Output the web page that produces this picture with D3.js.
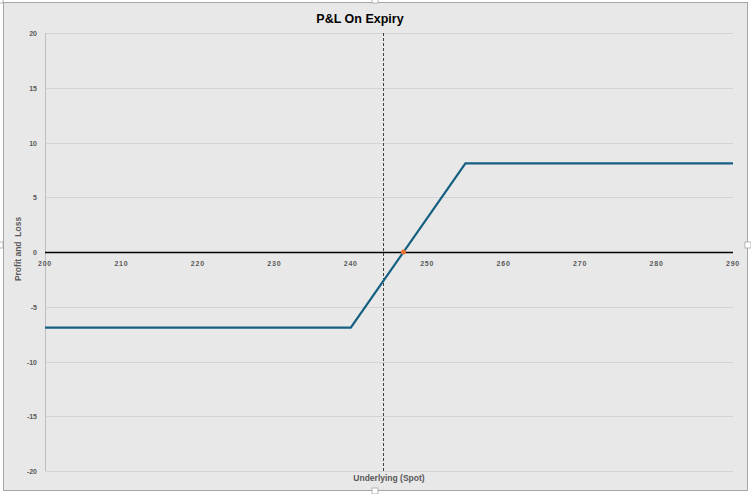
<!DOCTYPE html>
<html><head><meta charset="utf-8">
<script src="https://cdn.jsdelivr.net/npm/d3@7"></script>
<style>body{margin:0;background:#fff}svg{display:block}</style>
</head><body><svg id="c" width="751" height="494"></svg>
<script>
const underlying = [200, 240, 255, 290];
const pnl = [-6.9, -6.9, 8.1, 8.1];
const breakeven = [246.9, 0];
const spot = 244.2;
const xTicks = [200, 210, 220, 230, 240, 250, 260, 270, 280, 290];
const yTicks = [-20, -15, -10, -5, 0, 5, 10, 15, 20];
const title = "P&L On Expiry";
const xTitle = "Underlying (Spot)";
const yTitle = "Profit and  Loss";

const svg = d3.select("#c");
svg.append("rect").attr("x",3.5).attr("y",2.5).attr("width",744).attr("height",488)
  .attr("fill","#e8e8e8").attr("stroke","#a6a6a6").attr("stroke-width",1);

const x = d3.scaleLinear().domain([200,290]).range([45,733]);
const y = d3.scaleLinear().domain([-20,20]).range([471,33]);

// grid
svg.append("g").selectAll("line").data(yTicks.filter(d=>d!==0)).join("line")
  .attr("x1",45).attr("x2",733).attr("y1",d=>Math.round(y(d))+0.5).attr("y2",d=>Math.round(y(d))+0.5)
  .attr("stroke","#d4d4d4").attr("stroke-width",1);
svg.append("line").attr("x1",45.5).attr("x2",45.5).attr("y1",y(20)).attr("y2",y(-20))
  .attr("stroke","#bfbfbf");

// y labels
svg.append("g").selectAll("text").data(yTicks).join("text")
  .attr("x",37).attr("y",d=>y(d)+3).attr("text-anchor","end")
  .attr("font-family","Liberation Sans, Arial, sans-serif").attr("font-size",7).attr("font-weight","bold")
  .attr("fill","#595959").text(d=>d);

// zero axis
svg.append("line").attr("x1",45).attr("x2",733).attr("y1",Math.round(y(0))+0.5).attr("y2",Math.round(y(0))+0.5)
  .attr("stroke","#000").attr("stroke-width",1.3);

// x labels
svg.append("g").selectAll("text").data(xTicks).join("text")
  .attr("x",d=>x(d)).attr("y",y(0)+14).attr("text-anchor","middle")
  .attr("font-family","Liberation Sans, Arial, sans-serif").attr("font-size",7).attr("font-weight","bold")
  .attr("letter-spacing",0.8)
  .attr("fill","#595959").text(d=>d);

// spot dashed line
svg.append("line").attr("x1",Math.round(x(spot))+0.5).attr("x2",Math.round(x(spot))+0.5)
  .attr("y1",y(20)).attr("y2",y(-20)).attr("stroke","#404040").attr("stroke-width",1)
  .attr("stroke-dasharray","3,2");

// P&L line
const pts = underlying.map((u,i)=>[u,pnl[i]]);
svg.append("path").datum(pts)
  .attr("d",d3.line().x(d=>x(d[0])).y(d=>y(d[1])))
  .attr("fill","none").attr("stroke","#156082").attr("stroke-width",2.2);

// breakeven dot
svg.append("circle").attr("cx",x(breakeven[0])).attr("cy",y(breakeven[1])).attr("r",2.5)
  .attr("fill","#e97132");

// titles
svg.append("text").attr("x",360).attr("y",23).attr("text-anchor","middle")
  .attr("font-family","Liberation Sans, Arial, sans-serif").attr("font-size",12.5).attr("font-weight","bold")
  .attr("fill","#000").text(title);
svg.append("text").attr("x",389).attr("y",481).attr("text-anchor","middle")
  .attr("font-family","Liberation Sans, Arial, sans-serif").attr("font-size",8.5).attr("font-weight","bold")
  .attr("fill","#595959").text(xTitle);
svg.append("text").attr("transform","translate(21,249) rotate(-90)").attr("text-anchor","middle")
  .attr("font-family","Liberation Sans, Arial, sans-serif").attr("font-size",8.5).attr("font-weight","bold")
  .attr("fill","#595959").attr("xml:space","preserve").style("white-space","pre").text(yTitle);

// selection handles
const handles = [[0,0],[375,0],[0,245],[748,245],[375,491]];
svg.append("g").selectAll("rect").data(handles).join("rect")
  .attr("x",d=>d[0]-3).attr("y",d=>d[1]-3).attr("width",6).attr("height",6)
  .attr("fill","#fff").attr("stroke","#a6a6a6").attr("stroke-width",0.8);
</script></body></html>
